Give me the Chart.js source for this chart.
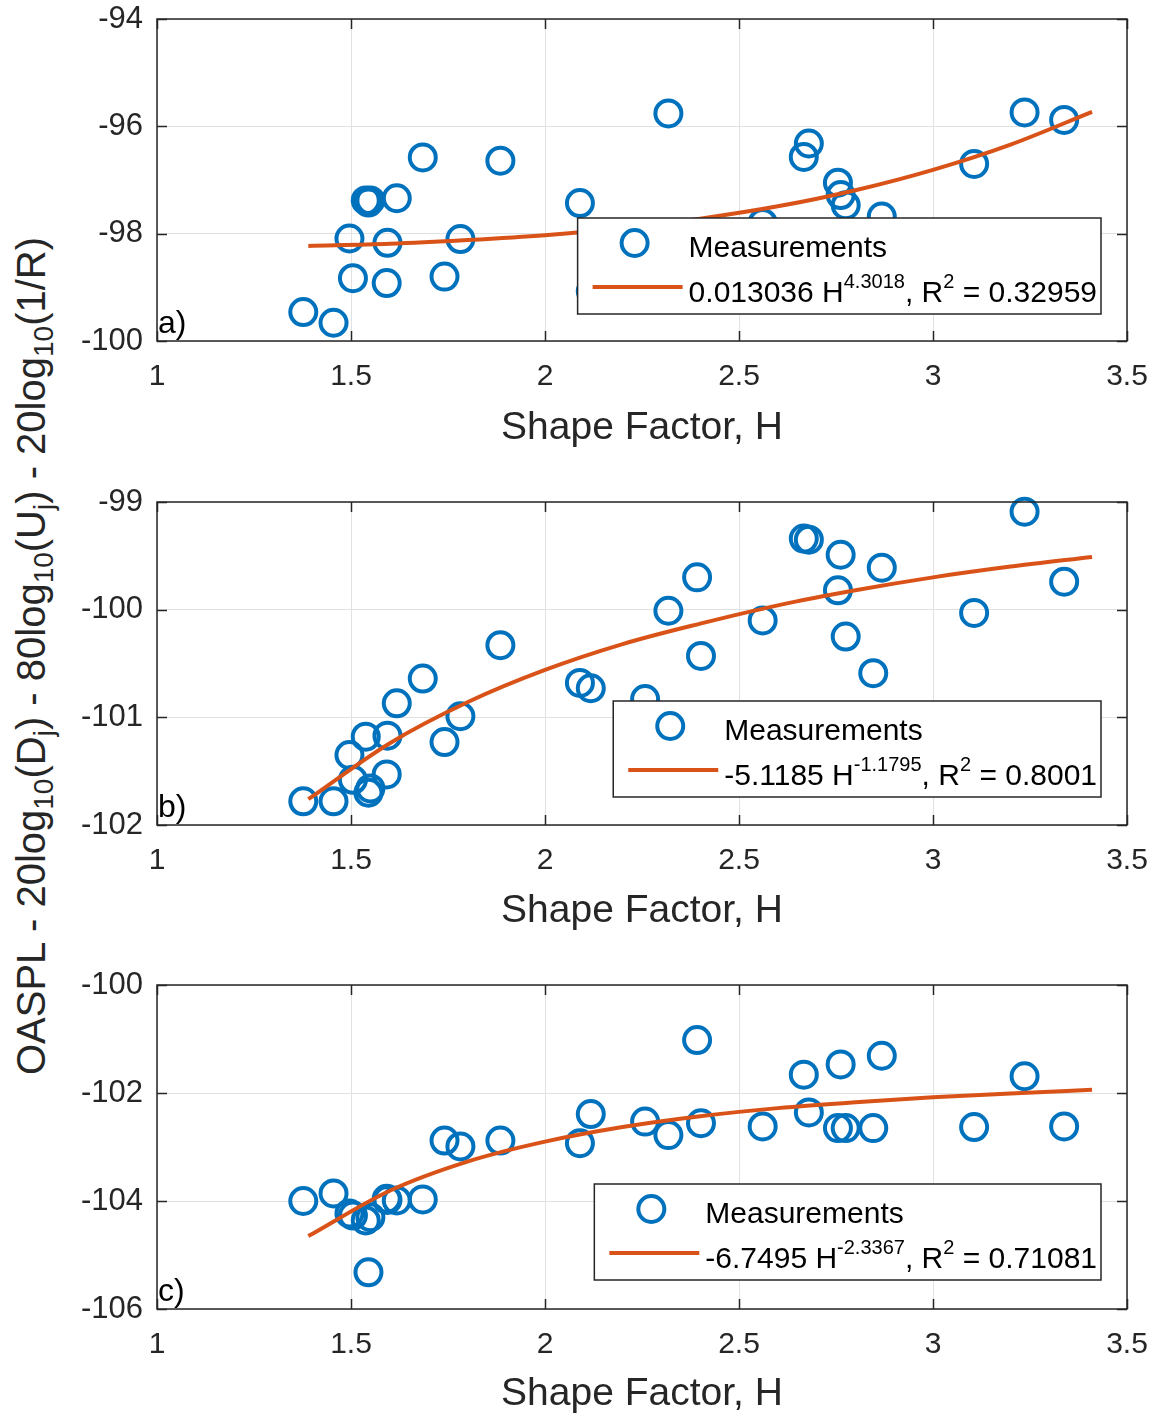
<!DOCTYPE html>
<html>
<head>
<meta charset="utf-8">
<title>Shape factor fits</title>
<script src="https://cdn.jsdelivr.net/npm/chart.js@4.4.1/dist/chart.umd.min.js"></script>
<style>
  html, body { margin: 0; padding: 0; background: #fff; }
  body { position: relative; width: 1160px; height: 1416px; overflow: hidden; font-family: "Liberation Sans", Arial, Helvetica, sans-serif; }
  canvas { position: absolute; left: 0; }
  #ytitle {
    position: absolute; left: 31px; top: 656px;
    white-space: nowrap; font-size: 40px; line-height: 40px; color: #262626;
    transform: translate(-50%, -50%) rotate(-90deg);
  }
  #ytitle span { font-size: 0.7em; vertical-align: -0.3em; line-height: 0; }
</style>
</head>
<body>
<div id="ytitle">OASPL - 20log<span>10</span>(D<span>j</span>) - 80log<span>10</span>(U<span>j</span>) - 20log<span>10</span>(1/R)</div>
<canvas id="panelA" width="1160" height="450" style="top:0px"></canvas>
<canvas id="panelB" width="1160" height="450" style="top:483px"></canvas>
<canvas id="panelC" width="1160" height="450" style="top:966px"></canvas>
<script>
// shape factor of each measurement (same cases in all three panels)
const shapeFactor = [1.377, 1.455, 1.496, 1.505, 1.538, 1.545, 1.550, 1.592, 1.594, 1.618, 1.685,
  1.741, 1.782, 1.885, 2.090, 2.118, 2.258, 2.318, 2.392, 2.402, 2.561, 2.667, 2.680, 2.755,
  2.762, 2.775, 2.846, 2.868, 3.106, 3.236, 3.338];

// a) OASPL - 20log10(Dj) - 80log10(Uj) - 20log10(1/R)
const levelA = [-99.46, -99.66, -98.09, -98.83, -97.38, -97.42, -97.38, -98.92, -98.17, -97.34, -96.58,
  -98.80, -98.10, -96.64, -97.43, -99.07, -98.90, -95.76, -98.40, -99.10, -97.80, -96.57, -96.32, -97.05,
  -97.28, -97.47, -98.50, -97.68, -96.70, -95.74, -95.88];
// b)
const levelB = [-101.78, -101.78, -101.35, -101.58, -101.18, -101.70, -101.66, -101.53, -101.17, -100.87, -100.64,
  -101.23, -100.99, -100.33, -100.68, -100.73, -100.83, -100.01, -99.70, -100.43, -100.10, -99.34, -99.35, -99.82,
  -99.49, -100.25, -100.59, -99.61, -100.03, -99.09, -99.74];
// c)
const levelC = [-104.00, -103.86, -104.23, -104.27, -104.36, -105.32, -104.30, -103.96, -103.98, -103.99, -103.97,
  -102.88, -102.99, -102.88, -102.93, -102.39, -102.53, -102.78, -101.02, -102.56, -102.62, -101.66, -102.36, -102.65,
  -101.47, -102.65, -102.65, -101.31, -102.63, -101.69, -102.62];

// fitted curves
const fitH = [1.39, 1.6, 1.8, 2.0, 2.2, 2.4, 2.6, 2.8, 3.0, 3.2, 3.41];
const fitA = [-98.23, -98.19, -98.12, -98.03, -97.90, -97.72, -97.49, -97.19, -96.81, -96.34, -95.73];
const fitB = [-101.76, -101.24, -100.86, -100.56, -100.32, -100.13, -99.96, -99.82, -99.70, -99.60, -99.51];
const fitC = [-104.65, -103.81, -103.27, -102.90, -102.63, -102.43, -102.28, -102.17, -102.08, -102.01, -101.94];

// legend: coefficient, exponent, R^2
const fitLabelA = ['0.013036', '4.3018', '0.32959'];
const fitLabelB = ['-5.1185', '-1.1795', '0.8001'];
const fitLabelC = ['-6.7495', '-2.3367', '0.71081'];

const xTicks = [1, 1.5, 2, 2.5, 3, 3.5];
const yTicksA = [-100, -98, -96, -94];
const yTicksB = [-102, -101, -100, -99];
const yTicksC = [-106, -104, -102, -100];

const BLUE = '#0072BD';
const ORANGE = '#D95319';
const AXIS = '#262626';
const FONT = '"Liberation Sans", Arial, Helvetica, sans-serif';

function toPoints(xs, ys) {
    return xs.map((x, i) => ({ x: x, y: ys[i] }));
}

function drawLegend(ctx, area, fitLabel) {
    const mainFont = '30px ' + FONT;
    const supFont = '20px ' + FONT;
    const parts = [
        [fitLabel[0] + ' H', false],
        [fitLabel[1], true],
        [', R', false],
        ['2', true],
        [' = ' + fitLabel[2], false]
    ];
    let w = 0;
    parts.forEach(p => {
        ctx.font = p[1] ? supFont : mainFont;
        w += ctx.measureText(p[0]).width;
    });
    const right = area.right - 26;
    const top = area.top + 199;
    const left = right - w - 115;
    const h = 96;

    ctx.fillStyle = '#fff';
    ctx.fillRect(left, top, right - left, h);
    ctx.strokeStyle = AXIS;
    ctx.lineWidth = 1.5;
    ctx.strokeRect(left, top, right - left, h);

    ctx.beginPath();
    ctx.arc(left + 57, top + 25, 13, 0, Math.PI * 2);
    ctx.strokeStyle = BLUE;
    ctx.lineWidth = 4;
    ctx.stroke();

    ctx.beginPath();
    ctx.moveTo(left + 15, top + 69);
    ctx.lineTo(left + 105, top + 69);
    ctx.strokeStyle = ORANGE;
    ctx.stroke();

    ctx.fillStyle = '#000';
    ctx.textAlign = 'left';
    ctx.textBaseline = 'alphabetic';
    ctx.font = mainFont;
    ctx.fillText('Measurements', left + 111, top + 39);
    let x = left + 111;
    parts.forEach(p => {
        ctx.font = p[1] ? supFont : mainFont;
        ctx.fillText(p[0], x, p[1] ? top + 70 : top + 84);
        x += ctx.measureText(p[0]).width;
    });
}

// box, inward ticks, panel tag and the in-axes legend, MATLAB style
const matlabAxes = {
    id: 'matlabAxes',
    afterDatasetsDraw(chart, args, opts) {
        const { ctx, chartArea: a } = chart;
        const xs = chart.scales.x, ys = chart.scales.y;
        ctx.save();
        ctx.strokeStyle = AXIS;
        ctx.lineWidth = 1.5;
        ctx.strokeRect(a.left, a.top, a.width, a.height);
        ctx.beginPath();
        xs.ticks.forEach(t => {
            const px = Math.round(xs.getPixelForValue(t.value)) + 0.5;
            ctx.moveTo(px, a.bottom); ctx.lineTo(px, a.bottom - 10);
            ctx.moveTo(px, a.top); ctx.lineTo(px, a.top + 10);
        });
        ys.ticks.forEach(t => {
            const py = Math.round(ys.getPixelForValue(t.value)) + 0.5;
            ctx.moveTo(a.left, py); ctx.lineTo(a.left + 10, py);
            ctx.moveTo(a.right, py); ctx.lineTo(a.right - 10, py);
        });
        ctx.stroke();

        ctx.fillStyle = '#000';
        ctx.font = '32px ' + FONT;
        ctx.textAlign = 'left';
        ctx.textBaseline = 'alphabetic';
        ctx.fillText(opts.tag, a.left + 1, a.bottom - 8);

        drawLegend(ctx, a, opts.fitLabel);
        ctx.restore();
    }
};

function makePanel(id, tag, values, fit, yTicks, fitLabel, xAxisHeight) {
    new Chart(document.getElementById(id), {
        type: 'scatter',
        data: {
            datasets: [{
                label: 'Measurements',
                data: toPoints(shapeFactor, values),
                showLine: false,
                pointStyle: 'circle',
                pointRadius: 13,
                pointHoverRadius: 13,
                pointBorderWidth: 4,
                pointBorderColor: BLUE,
                pointBackgroundColor: 'rgba(0,0,0,0)',
                borderColor: BLUE,
                backgroundColor: 'rgba(0,0,0,0)',
                clip: false,
                order: 2
            }, {
                label: 'fit',
                data: toPoints(fitH, fit),
                showLine: true,
                borderColor: ORANGE,
                borderWidth: 4,
                borderCapStyle: 'butt',
                pointRadius: 0,
                pointHoverRadius: 0,
                cubicInterpolationMode: 'monotone',
                fill: false,
                order: 1
            }]
        },
        options: {
            responsive: false,
            animation: false,
            devicePixelRatio: 1,
            events: [],
            layout: { padding: { left: 0, top: 19, right: 33, bottom: 0 } },
            plugins: {
                legend: { display: false },
                tooltip: { enabled: false },
                matlabAxes: { tag: tag, fitLabel: fitLabel }
            },
            scales: {
                x: {
                    type: 'linear',
                    min: xTicks[0],
                    max: xTicks[xTicks.length - 1],
                    afterBuildTicks: s => { s.ticks = xTicks.map(v => ({ value: v })); },
                    afterFit: s => { s.height = xAxisHeight; s.paddingLeft = 0; s.paddingRight = 0; },
                    grid: { color: '#e1e1e1', lineWidth: 1, drawTicks: false },
                    border: { display: false },
                    ticks: {
                        padding: 18,
                        color: AXIS,
                        font: { family: FONT, size: 30, lineHeight: 1.2 },
                        maxRotation: 0,
                        callback: v => String(v)
                    },
                    title: {
                        display: true,
                        text: 'Shape Factor, H',
                        color: AXIS,
                        font: { family: FONT, size: 39, lineHeight: 1 },
                        padding: { top: 0, bottom: 2 }
                    }
                },
                y: {
                    type: 'linear',
                    min: yTicks[0],
                    max: yTicks[yTicks.length - 1],
                    afterBuildTicks: s => { s.ticks = yTicks.map(v => ({ value: v })); },
                    afterFit: s => { s.width = 157; s.paddingTop = 0; s.paddingBottom = 0; },
                    grid: { color: '#e1e1e1', lineWidth: 1, drawTicks: false },
                    border: { display: false },
                    ticks: {
                        padding: 14,
                        color: AXIS,
                        font: { family: FONT, size: 31 },
                        callback: v => String(v)
                    }
                }
            }
        },
        plugins: [matlabAxes]
    });
}

makePanel('panelA', 'a)', levelA, fitA, yTicksA, fitLabelA, 109);
makePanel('panelB', 'b)', levelB, fitB, yTicksB, fitLabelB, 108);
makePanel('panelC', 'c)', levelC, fitC, yTicksC, fitLabelC, 107);
</script>
</body>
</html>
